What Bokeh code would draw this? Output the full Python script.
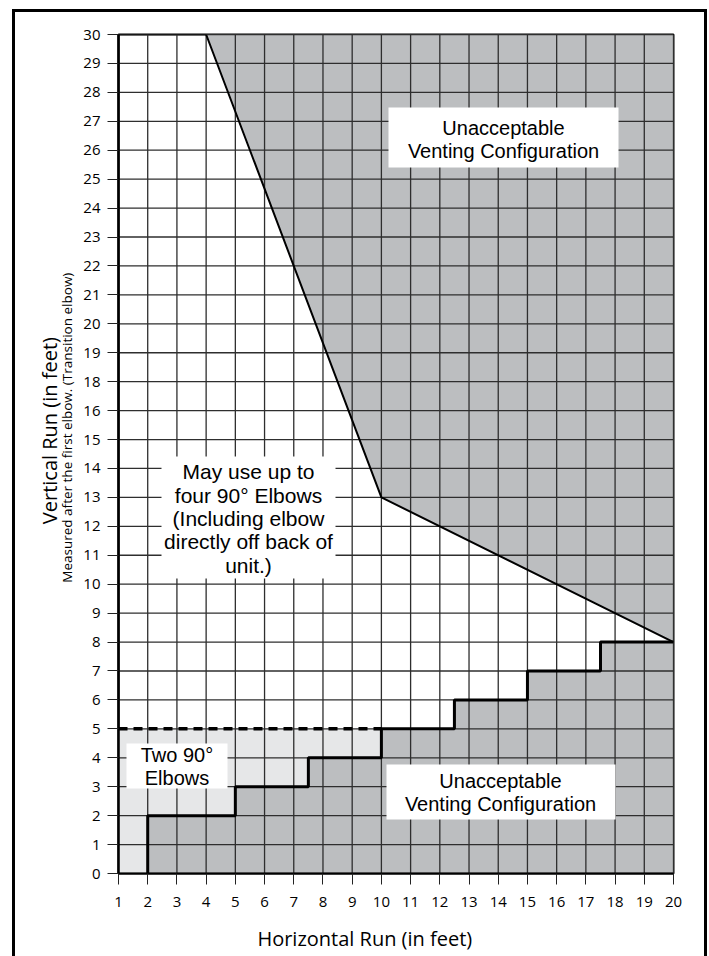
from bokeh.plotting import figure
from bokeh.models import Range1d, FixedTicker, LinearAxis, InlineStyleSheet
from bokeh.core.properties import value
from bokeh.embed import file_html
from bokeh.resources import INLINE

# ---------------- data ----------------
x_ticks = list(range(1, 21))
x_tick_labels = [str(v) for v in x_ticks]
# the printed vertical scale skips "17"
y_tick_labels = [str(v) for v in range(0, 17)] + [str(v) for v in range(18, 31)]
y_ticks = list(range(len(y_tick_labels)))

def ypos(label_value):
    return y_tick_labels.index(str(label_value))

# upper limit (above = unacceptable)
upper_x = [4, 10, 20]
upper_y = [30, 13, 8]
# lower stepped limit (below = unacceptable)
step_x = [2, 2, 5, 5, 7.5, 7.5, 10, 10, 12.5, 12.5, 15, 15, 17.5, 17.5, 20]
step_y = [0, 2, 2, 3, 3, 4, 4, 5, 5, 6, 6, 7, 7, 8, 8]
# "two 90° elbows" zone
two_x = [1, 10]
two_y = [0, 5]

upper_pos = [ypos(v) for v in upper_y]
step_pos = [ypos(v) for v in step_y]
top_pos = ypos(30)

# ---------------- layout ----------------
W, H = 709, 956
FL, FR, FT, FB = 118, 673, 34, 873          # frame edges in px
XPX = (FR - FL) / (x_ticks[-1] - x_ticks[0])
YPX = (FB - FT) / (y_ticks[-1] - y_ticks[0])

def sx(px):   # px -> data x
    return x_ticks[0] + (px - FL) / XPX

def sy(py):   # px -> data y
    return (FB - py) / YPX

NB = "\u00a0"
DARK = "#bcbec0"
LIGHT = "#e6e7e8"
GRID = "#2e2e2e"
AXFONT = "Open Sans"

p = figure(width=W, height=H, output_backend="svg", toolbar_location=None,
           x_range=Range1d(x_ticks[0], x_ticks[-1]), y_range=Range1d(y_ticks[0], y_ticks[-1]),
           min_border_left=FL, min_border_right=W - FR, min_border_top=FT, min_border_bottom=H - FB)
p.grid.visible = False
p.background_fill_color = "white"
p.border_fill_color = "white"
p.outline_line_color = "black"
p.outline_line_width = 2

# fills
p.quad(left=[two_x[0]], right=[two_x[1]], bottom=[two_y[0]], top=[two_y[1]],
       fill_color=LIGHT, line_color=None)
p.patch(upper_x + [upper_x[-1]], upper_pos + [top_pos], fill_color=DARK, line_color=None)
p.patch(step_x + [step_x[-1]], step_pos + [0], fill_color=DARK, line_color=None)

# grid
p.segment(x0=x_ticks, y0=[y_ticks[0]] * len(x_ticks), x1=x_ticks, y1=[y_ticks[-1]] * len(x_ticks),
          line_color=GRID, line_width=1.3)
p.segment(x0=[x_ticks[0]] * len(y_ticks), y0=y_ticks, x1=[x_ticks[-1]] * len(y_ticks), y1=y_ticks,
          line_color=GRID, line_width=1.3)

# white label boxes
boxes = [(388, 618, 107, 167), (386, 615, 764, 819), (161, 335, 456, 578), (126, 227, 743, 788)]
p.quad(left=[sx(b[0]) for b in boxes], right=[sx(b[1]) for b in boxes],
       top=[sy(b[2]) for b in boxes], bottom=[sy(b[3]) for b in boxes],
       fill_color="white", line_color=None)

texts = [("Unacceptable\nVenting Configuration", 503, 139, "20px"),
         ("Unacceptable\nVenting Configuration", 500, 792, "20px"),
         ("May use up to\nfour 90° Elbows\n(Including elbow\ndirectly off back of\nunit.)", 248, 518, "21px"),
         ("Two 90°\nElbows", 176.5, 766, "20px")]
for t, tx, ty, fs in texts:
    p.text(x=[sx(tx)], y=[sy(ty)], text=[t], text_align="center", text_baseline="middle",
           text_font=value("Liberation Sans"), text_font_size=fs, text_line_height=1.02,
           text_color="black")

# limit lines
p.line(upper_x, upper_pos, line_color="black", line_width=2)
p.line(step_x, step_pos, line_color="black", line_width=3)
p.line(two_x, [two_y[1], two_y[1]], line_color="black", line_width=3.5, line_dash="9 6")

# axes
for ax in (p.xaxis, p.yaxis):
    ax.major_tick_out = 11
    ax.major_tick_in = 0
    ax.minor_tick_out = 0
    ax.minor_tick_in = 0
    ax.major_tick_line_color = "#222222"
    ax.major_label_text_font = AXFONT
    ax.major_label_text_font_size = "15px"
    ax.major_label_text_color = "black"
    ax.axis_line_color = "black"
    ax.axis_label_text_font = AXFONT
    ax.axis_label_text_font_style = "normal"
    ax.axis_label_text_color = "black"
p.xaxis.ticker = FixedTicker(ticks=x_ticks)
p.xaxis.major_label_overrides = {v: s for v, s in zip(x_ticks, x_tick_labels)}
p.xaxis.major_label_standoff = 12
p.xaxis.axis_line_width = 2
p.xaxis.axis_label = "Horizontal Run (in feet)" + NB * 12
p.xaxis.axis_label_text_font_size = "20px"
p.xaxis.axis_label_standoff = 15

p.yaxis.ticker = FixedTicker(ticks=y_ticks)
p.yaxis.major_label_overrides = {v: s for v, s in zip(y_ticks, y_tick_labels)}
p.yaxis.major_label_standoff = 7
p.yaxis.axis_line_width = 2.5
p.yaxis.axis_label = NB * 15 + "Measured after the first elbow. (Transition elbow)"
p.yaxis.axis_label_text_font_size = "13.5px"
p.yaxis.axis_label_standoff = 4

# outer title axis on the left (label only)
title_axis = LinearAxis(ticker=FixedTicker(ticks=[]), axis_line_color=None,
                        major_tick_out=0, major_tick_in=0, minor_tick_out=0, minor_tick_in=0,
                        major_label_standoff=0, axis_label=NB * 9 + "Vertical Run (in feet)",
                        axis_label_text_font=AXFONT, axis_label_text_font_size="20px",
                        axis_label_text_font_style="normal", axis_label_text_color="black",
                        axis_label_standoff=-7)
p.add_layout(title_axis, "left")

# outer frame of the figure
p.stylesheets = [InlineStyleSheet(css=(
    ":host { position: relative; }"
    ":host::after { content: ''; position: absolute; left: 12px; top: 9px; right: 2px; bottom: 0px;"
    " border: 3px solid black; border-bottom: none; pointer-events: none; z-index: 10; }"))]

open("out.html", "w").write(file_html(p, INLINE))
